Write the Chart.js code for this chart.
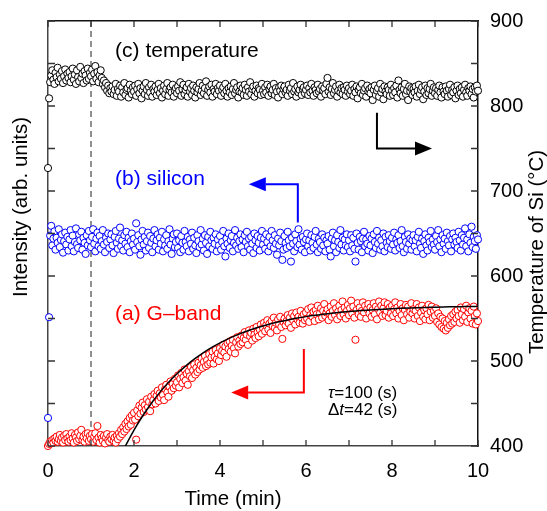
<!DOCTYPE html>
<html>
<head>
<meta charset="utf-8">
<script src="https://cdn.jsdelivr.net/npm/chart.js@4"></script>
<style>
  body { margin: 0; background: #fff; }
  canvas { display: block; }
</style>
</head>
<body>
<canvas id="chartCanvas" width="547" height="511"></canvas>
<script>
// sampling times (min), one spectrum every 1.5 s
const TIMES = [
  0, 0.025, 0.05, 0.075, 0.1, 0.125, 0.15, 0.175, 0.2, 0.225, 0.25, 0.275, 0.3, 0.325, 0.35, 0.375, 0.4, 0.425, 0.45, 0.475,
  0.5, 0.525, 0.55, 0.575, 0.6, 0.625, 0.65, 0.675, 0.7, 0.725, 0.75, 0.775, 0.8, 0.825, 0.85, 0.875, 0.9, 0.925, 0.95, 0.975,
  1, 1.025, 1.05, 1.075, 1.1, 1.125, 1.15, 1.175, 1.2, 1.225, 1.25, 1.275, 1.3, 1.325, 1.35, 1.375, 1.4, 1.425, 1.45, 1.475,
  1.5, 1.525, 1.55, 1.575, 1.6, 1.625, 1.65, 1.675, 1.7, 1.725, 1.75, 1.775, 1.8, 1.825, 1.85, 1.875, 1.9, 1.925, 1.95, 1.975,
  2, 2.025, 2.05, 2.075, 2.1, 2.125, 2.15, 2.175, 2.2, 2.225, 2.25, 2.275, 2.3, 2.325, 2.35, 2.375, 2.4, 2.425, 2.45, 2.475,
  2.5, 2.525, 2.55, 2.575, 2.6, 2.625, 2.65, 2.675, 2.7, 2.725, 2.75, 2.775, 2.8, 2.825, 2.85, 2.875, 2.9, 2.925, 2.95, 2.975,
  3, 3.025, 3.05, 3.075, 3.1, 3.125, 3.15, 3.175, 3.2, 3.225, 3.25, 3.275, 3.3, 3.325, 3.35, 3.375, 3.4, 3.425, 3.45, 3.475,
  3.5, 3.525, 3.55, 3.575, 3.6, 3.625, 3.65, 3.675, 3.7, 3.725, 3.75, 3.775, 3.8, 3.825, 3.85, 3.875, 3.9, 3.925, 3.95, 3.975,
  4, 4.025, 4.05, 4.075, 4.1, 4.125, 4.15, 4.175, 4.2, 4.225, 4.25, 4.275, 4.3, 4.325, 4.35, 4.375, 4.4, 4.425, 4.45, 4.475,
  4.5, 4.525, 4.55, 4.575, 4.6, 4.625, 4.65, 4.675, 4.7, 4.725, 4.75, 4.775, 4.8, 4.825, 4.85, 4.875, 4.9, 4.925, 4.95, 4.975,
  5, 5.025, 5.05, 5.075, 5.1, 5.125, 5.15, 5.175, 5.2, 5.225, 5.25, 5.275, 5.3, 5.325, 5.35, 5.375, 5.4, 5.425, 5.45, 5.475,
  5.5, 5.525, 5.55, 5.575, 5.6, 5.625, 5.65, 5.675, 5.7, 5.725, 5.75, 5.775, 5.8, 5.825, 5.85, 5.875, 5.9, 5.925, 5.95, 5.975,
  6, 6.025, 6.05, 6.075, 6.1, 6.125, 6.15, 6.175, 6.2, 6.225, 6.25, 6.275, 6.3, 6.325, 6.35, 6.375, 6.4, 6.425, 6.45, 6.475,
  6.5, 6.525, 6.55, 6.575, 6.6, 6.625, 6.65, 6.675, 6.7, 6.725, 6.75, 6.775, 6.8, 6.825, 6.85, 6.875, 6.9, 6.925, 6.95, 6.975,
  7, 7.025, 7.05, 7.075, 7.1, 7.125, 7.15, 7.175, 7.2, 7.225, 7.25, 7.275, 7.3, 7.325, 7.35, 7.375, 7.4, 7.425, 7.45, 7.475,
  7.5, 7.525, 7.55, 7.575, 7.6, 7.625, 7.65, 7.675, 7.7, 7.725, 7.75, 7.775, 7.8, 7.825, 7.85, 7.875, 7.9, 7.925, 7.95, 7.975,
  8, 8.025, 8.05, 8.075, 8.1, 8.125, 8.15, 8.175, 8.2, 8.225, 8.25, 8.275, 8.3, 8.325, 8.35, 8.375, 8.4, 8.425, 8.45, 8.475,
  8.5, 8.525, 8.55, 8.575, 8.6, 8.625, 8.65, 8.675, 8.7, 8.725, 8.75, 8.775, 8.8, 8.825, 8.85, 8.875, 8.9, 8.925, 8.95, 8.975,
  9, 9.025, 9.05, 9.075, 9.1, 9.125, 9.15, 9.175, 9.2, 9.225, 9.25, 9.275, 9.3, 9.325, 9.35, 9.375, 9.4, 9.425, 9.45, 9.475,
  9.5, 9.525, 9.55, 9.575, 9.6, 9.625, 9.65, 9.675, 9.7, 9.725, 9.75, 9.775, 9.8, 9.825, 9.85, 9.875, 9.9, 9.925, 9.95, 9.975,
  10
];

// (a) G-band intensity (arb. units, left axis)
const GBAND = [
  0.00, 0.05, 0.10, 0.06, 0.14, 0.08, 0.18, 0.12, 0.22, 0.10, 0.16, 0.26, 0.12, 0.20, 0.08, 0.24, 0.14, 0.28, 0.18, 0.10,
  0.22, 0.14, 0.30, 0.18, 0.08, 0.26, 0.20, 0.12, 0.32, 0.16, 0.24, 0.38, 0.14, 0.22, 0.10, 0.28, 0.18, 0.30, 0.12, 0.24,
  0.16, 0.28, 0.10, 0.22, 0.30, 0.14, 0.47, 0.20, 0.08, 0.26, 0.18, 0.12, 0.24, 0.06, 0.20, 0.28, 0.14, 0.10, 0.22, 0.16,
  0.26, 0.12, 0.20, 0.08, 0.24, 0.16, 0.30, 0.22, 0.38, 0.28, 0.44, 0.34, 0.52, 0.40, 0.58, 0.46, 0.66, 0.50, 0.72, 0.60,
  0.78, 0.62, 0.15, 0.84, 0.70, 0.95, 0.76, 0.90, 1.02, 0.80, 0.96, 0.86, 1.10, 0.92, 1.04, 0.82, 1.16, 0.98, 1.08, 1.22,
  1.00, 1.18, 1.30, 1.06, 1.24, 1.14, 1.38, 1.20, 1.08, 1.34, 1.44, 1.26, 1.16, 1.40, 1.52, 1.30, 1.46, 1.36, 1.58, 1.42,
  1.50, 1.66, 1.38, 1.58, 1.72, 1.48, 1.62, 1.80, 1.54, 1.70, 1.44, 1.76, 1.64, 1.86, 1.60, 1.78, 1.92, 1.68, 1.84, 1.74,
  1.96, 1.80, 1.90, 2.06, 1.84, 1.98, 2.12, 1.88, 2.02, 1.92, 2.16, 1.96, 2.08, 2.22, 1.94, 2.10, 2.26, 2.04, 2.18, 2.00,
  2.30, 2.14, 2.24, 2.38, 2.20, 2.34, 2.10, 2.42, 2.28, 2.46, 2.22, 2.36, 2.50, 2.30, 2.18, 2.44, 2.56, 2.34, 2.48, 2.40,
  2.60, 2.44, 2.54, 2.68, 2.50, 2.62, 2.38, 2.72, 2.58, 2.66, 2.48, 2.76, 2.62, 2.54, 2.80, 2.68, 2.58, 2.74, 2.86, 2.64,
  2.78, 2.90, 2.70, 2.84, 2.96, 2.74, 2.88, 2.66, 2.94, 2.82, 3.02, 2.78, 2.90, 2.72, 2.98, 2.86, 3.04, 2.80, 2.52, 2.92,
  3.00, 2.84, 2.94, 3.08, 2.88, 3.02, 2.78, 3.12, 2.96, 3.06, 2.86, 3.14, 2.98, 3.04, 2.90, 3.18, 3.02, 2.88, 3.10, 2.96,
  3.14, 3.00, 3.22, 2.92, 3.08, 3.26, 3.04, 3.16, 2.94, 3.20, 3.10, 3.30, 2.98, 3.12, 3.24, 3.02, 3.18, 3.34, 3.06, 3.14,
  3.22, 2.96, 3.12, 3.28, 3.04, 3.18, 3.36, 3.08, 3.24, 2.98, 3.16, 3.30, 3.06, 3.20, 3.40, 3.10, 3.26, 3.00, 3.18, 3.32,
  3.08, 3.24, 3.42, 3.12, 3.28, 3.02, 2.50, 3.20, 3.36, 3.10, 3.26, 3.04, 3.18, 3.38, 3.14, 3.30, 3.00, 3.22, 3.34, 3.12,
  3.26, 3.04, 3.20, 3.36, 3.10, 3.28, 2.98, 3.22, 3.40, 3.14, 3.30, 3.06, 3.24, 3.38, 3.08, 3.18, 3.34, 3.02, 3.26, 3.12,
  3.30, 3.06, 3.22, 3.38, 3.12, 3.26, 3.00, 3.18, 3.34, 3.08, 3.24, 2.96, 3.20, 3.32, 3.10, 3.28, 3.02, 3.16, 3.36, 3.12,
  3.22, 3.00, 3.18, 3.34, 3.06, 3.26, 2.94, 3.14, 3.30, 3.04, 3.20, 2.98, 3.24, 3.10, 3.32, 2.96, 3.16, 3.28, 3.02, 3.18,
  3.06, 3.24, 2.92, 3.12, 2.86, 3.04, 2.80, 3.00, 2.76, 2.94, 2.72, 2.90, 2.78, 2.98, 2.84, 3.06, 2.88, 3.10, 2.92, 3.16,
  3.00, 3.20, 3.06, 2.90, 3.26, 3.10, 2.96, 3.22, 3.04, 3.30, 2.92, 3.14, 3.24, 3.00, 3.18, 2.88, 3.28, 3.06, 2.86, 3.12,
  2.94
];

// (b) silicon intensity (arb. units, left axis)
const SILICON = [
  0.66, 3.03, 4.95, 5.18, 4.72, 4.88, 5.05, 4.62, 4.90, 4.78, 5.10, 4.68, 4.85, 4.98, 4.55, 4.82, 5.02, 4.74, 4.92, 4.60,
  4.86, 5.08, 4.70, 4.95, 4.58, 4.80, 5.12, 4.75, 4.66, 4.98, 4.84, 5.04, 4.62, 4.90, 4.78, 4.52, 4.96, 4.72, 5.06, 4.84,
  4.68, 4.92, 5.10, 4.76, 4.58, 4.88, 5.02, 4.70, 4.94, 4.64, 4.82, 5.08, 4.74, 4.56, 4.90, 4.80, 5.00, 4.66, 4.86, 4.98,
  4.72, 4.54, 4.92, 5.06, 4.78, 4.64, 4.88, 5.14, 4.70, 4.84, 4.60, 4.96, 4.76, 5.04, 4.68, 4.90, 4.56, 4.82, 5.00, 4.74,
  4.88, 4.62, 5.24, 4.80, 4.96, 4.70, 4.50, 4.86, 5.06, 4.74, 4.92, 4.60, 4.82, 5.02, 4.66, 4.94, 4.78, 4.56, 4.88, 5.08,
  4.70, 4.84, 4.98, 4.62, 4.90, 4.76, 5.04, 4.58, 4.86, 4.72, 4.96, 4.64, 4.82, 5.10, 4.74, 4.52, 4.88, 4.98, 4.68, 4.80,
  5.00, 4.66, 4.84, 4.56, 4.94, 4.78, 4.62, 5.06, 4.80, 4.70, 4.92, 4.58, 4.86, 4.76, 5.02, 4.64, 4.90, 4.72, 4.54, 4.96,
  4.82, 4.68, 5.08, 4.74, 4.88, 4.60, 4.96, 4.78, 4.52, 4.92, 4.70, 5.04, 4.84, 4.64, 4.90, 4.76, 4.98, 4.58, 4.86, 4.72,
  4.94, 4.62, 4.80, 5.06, 4.70, 4.46, 4.88, 4.76, 5.00, 4.66, 4.84, 4.94, 4.58, 4.78, 5.08, 4.72, 4.90, 4.64, 4.82, 4.98,
  4.68, 4.86, 4.56, 4.96, 4.80, 5.04, 4.70, 4.88, 4.62, 4.92, 4.76, 4.54, 5.00, 4.84, 4.66, 4.94, 4.78, 4.60, 4.90, 5.06,
  4.74, 4.88, 4.64, 4.98, 4.80, 4.58, 4.92, 4.70, 5.06, 4.84, 4.66, 4.96, 4.76, 4.50, 4.88, 4.72, 5.02, 4.82, 4.38, 4.62,
  4.94, 4.78, 4.66, 5.04, 4.84, 4.70, 4.34, 4.90, 4.76, 4.58, 4.98, 4.82, 4.68, 5.10, 4.74, 4.88, 4.62, 4.92, 4.80, 4.56,
  4.86, 5.00, 4.70, 4.84, 4.60, 4.96, 4.78, 4.66, 4.92, 5.06, 4.74, 4.56, 4.88, 4.80, 4.64, 4.98, 4.72, 4.90, 4.58, 4.84,
  4.76, 4.94, 4.62, 4.46, 4.88, 5.02, 4.70, 4.84, 4.56, 4.96, 4.80, 4.66, 5.08, 4.74, 4.90, 4.60, 4.86, 4.72, 4.98, 4.68,
  4.84, 4.58, 4.96, 4.72, 4.90, 4.64, 4.34, 5.00, 4.78, 4.62, 4.92, 4.82, 4.56, 4.88, 5.04, 4.70, 4.86, 4.76, 4.60, 4.94,
  4.72, 4.88, 4.54, 4.98, 4.80, 4.66, 5.06, 4.76, 4.90, 4.62, 4.84, 4.70, 5.00, 4.58, 4.92, 4.78, 4.68, 4.96, 4.82, 4.64,
  4.90, 4.74, 5.02, 4.60, 4.86, 4.78, 4.96, 4.66, 4.82, 5.08, 4.70, 4.56, 4.92, 4.80, 4.64, 4.98, 4.76, 4.88, 4.62, 4.84,
  4.96, 4.70, 4.84, 4.58, 4.92, 5.04, 4.76, 4.66, 4.88, 4.52, 4.82, 4.98, 4.72, 4.60, 4.90, 4.80, 5.06, 4.68, 4.86, 4.74,
  4.62, 4.94, 4.80, 5.08, 4.70, 4.86, 4.56, 4.96, 4.76, 4.88, 4.64, 5.02, 4.82, 4.72, 4.94, 4.58, 4.86, 5.00, 4.74, 4.90,
  4.80, 4.66, 5.04, 4.84, 4.60, 4.96, 4.74, 4.90, 5.12, 4.70, 4.86, 4.58, 4.98, 4.78, 5.16, 4.68, 4.92, 4.82, 4.64, 4.96,
  4.86
];

// (c) substrate temperature (°C, right axis)
const TEMPERATURE = [
  727, 809, 828, 836, 842, 831, 826, 839, 834, 845, 829, 837, 832, 841, 827, 835, 843, 830, 838, 833,
  840, 828, 835, 844, 831, 837, 826, 842, 834, 829, 846, 833, 838, 827, 841, 836, 830, 844, 832, 839,
  835, 843, 829, 838, 847, 832, 840, 828, 836, 842, 833, 826, 830, 822, 827, 818, 824, 815, 821, 817,
  823, 814, 819, 826, 812, 820, 817, 824, 811, 822, 816, 827, 813, 819, 821, 810, 825, 818, 814, 822,
  817, 824, 812, 820, 826, 815, 821, 809, 818, 823, 814, 827, 819, 812, 822, 816, 825, 811, 820, 817,
  823, 813, 819, 826, 815, 821, 810, 818, 824, 814, 820, 827, 812, 819, 822, 816, 825, 811, 818, 821,
  815, 823, 818, 828, 812, 820, 825, 814, 819, 822, 811, 826, 817, 821, 813, 824, 818, 810, 822, 816,
  820, 827, 813, 818, 824, 815, 821, 829, 812, 819, 823, 816, 825, 811, 820, 817, 826, 814, 821, 818,
  824, 812, 819, 822, 815, 826, 818, 811, 821, 816, 823, 813, 820, 827, 815, 819, 822, 810, 817, 824,
  816, 821, 813, 825, 819, 812, 822, 817, 828, 814, 820, 823, 811, 818, 824, 815, 821, 819, 813, 826,
  818, 814, 822, 816, 825, 812, 820, 823, 815, 819, 826, 813, 821, 817, 810, 822, 818, 824, 814, 820,
  823, 816, 819, 812, 825, 818, 821, 814, 827, 817, 820, 811, 823, 816, 819, 825, 813, 820, 822, 815,
  819, 824, 813, 821, 816, 826, 818, 812, 822, 819, 815, 825, 817, 820, 811, 823, 818, 821, 814, 826,
  833, 817, 822, 813, 820, 827, 815, 819, 823, 811, 818, 825, 816, 821, 814, 822, 819, 812, 824, 817,
  821, 814, 818, 825, 812, 820, 816, 823, 809, 819, 822, 815, 826, 813, 818, 821, 811, 824, 817, 820,
  815, 822, 807, 819, 824, 813, 818, 821, 811, 826, 816, 820, 808, 823, 817, 814, 822, 819, 812, 825,
  818, 813, 821, 816, 824, 810, 830, 819, 815, 822, 812, 820, 826, 814, 818, 807, 823, 817, 821, 813,
  820, 816, 823, 811, 818, 825, 814, 819, 822, 808, 817, 824, 813, 821, 815, 820, 826, 812, 818, 822,
  815, 821, 812, 819, 824, 816, 810, 822, 817, 814, 823, 818, 811, 820, 825, 813, 819, 816, 822, 809,
  818, 824, 813, 820, 815, 822, 811, 819, 825, 816, 812, 821, 818, 823, 814, 820, 810, 822, 817, 824,
  818
];

// exponential fit of the G-band rise: tau = 100 s, delay 42 s after heating
const FIT_TIMES = [
  1.8, 2.0, 2.2, 2.4, 2.6, 2.8, 3.0, 3.2, 3.4, 3.6, 3.8,
  4.0, 4.2, 4.4, 4.6, 4.8, 5.0, 5.2, 5.4, 5.6, 5.8,
  6.0, 6.2, 6.4, 6.6, 6.8, 7.0, 7.2, 7.4, 7.6, 7.8,
  8.0, 8.2, 8.4, 8.6, 8.8, 9.0, 9.2, 9.4, 9.6, 9.8, 10.0
];
const FIT_VALUES = [
  0, 0.374, 0.706, 1.001, 1.262, 1.493, 1.699, 1.881, 2.043, 2.186, 2.313,
  2.426, 2.526, 2.615, 2.693, 2.763, 2.825, 2.880, 2.928, 2.971, 3.010,
  3.044, 3.074, 3.100, 3.124, 3.145, 3.164, 3.180, 3.195, 3.208, 3.220,
  3.230, 3.239, 3.247, 3.254, 3.260, 3.266, 3.271, 3.275, 3.279, 3.283, 3.286
];

const HEATING_ON = 1.0; // min, dashed marker

const FONT = '"Liberation Sans", Arial, Helvetica, sans-serif';

// arrows pointing to the axis each trace belongs to (x in min, y in °C)
const arrows = [
  { color: '#000', from: [7.65, 792], corner: [7.65, 750], to: [8.93, 750] },
  { color: '#0000ff', from: [5.81, 663], corner: [5.81, 708], to: [4.67, 708] },
  { color: '#ff0000', from: [5.95, 514], corner: [5.95, 463], to: [4.26, 463] }
];

const labels = [
  { text: '(c) temperature', color: '#000', at: [1.56, 865] },
  { text: '(b) silicon', color: '#0000ff', at: [1.56, 714] },
  { text: '(a) G\u2013band', color: '#ff0000', at: [1.56, 555] }
];

function points(xs, ys) {
  return xs.map((x, i) => ({ x: x, y: ys[i] }));
}

function circles(label, data, color, axis) {
  return {
    label: label,
    data: data,
    yAxisID: axis,
    showLine: false,
    pointStyle: 'circle',
    pointRadius: 3.6,
    borderWidth: 1,
    borderColor: color,
    pointBackgroundColor: '#fff',
    backgroundColor: '#fff',
    clip: false
  };
}

// inward ticks, dashed marker, arrows and text
const decorations = {
  id: 'decorations',
  beforeDatasetsDraw(chart) {
    const { ctx, chartArea: a, scales } = chart;
    const x = scales.x.getPixelForValue(HEATING_ON);
    ctx.save();
    ctx.strokeStyle = '#555';
    ctx.lineWidth = 1.3;
    ctx.setLineDash([6, 4]);
    ctx.beginPath();
    ctx.moveTo(x, a.top);
    ctx.lineTo(x, a.bottom);
    ctx.stroke();
    ctx.restore();
  },
  afterDraw(chart) {
    const { ctx, chartArea: a, scales } = chart;
    const sx = scales.x, sy = scales.y, st = scales.y2;
    ctx.save();

    // ticks point into the frame
    ctx.lineWidth = 1.3;
    ctx.strokeStyle = '#333';
    ctx.beginPath();
    sx.ticks.forEach(t => {
      const px = sx.getPixelForValue(t.value);
      ctx.moveTo(px, a.bottom); ctx.lineTo(px, a.bottom - 6);
      ctx.moveTo(px, a.top); ctx.lineTo(px, a.top + 6);
    });
    sy.ticks.forEach(t => {
      const py = sy.getPixelForValue(t.value);
      ctx.moveTo(a.left, py); ctx.lineTo(a.left + 7, py);
    });
    st.ticks.forEach(t => {
      const py = st.getPixelForValue(t.value);
      ctx.moveTo(a.right, py); ctx.lineTo(a.right - 7, py);
    });
    ctx.stroke();

    // arrows
    arrows.forEach(ar => {
      const p0 = [sx.getPixelForValue(ar.from[0]), st.getPixelForValue(ar.from[1])];
      const p1 = [sx.getPixelForValue(ar.corner[0]), st.getPixelForValue(ar.corner[1])];
      const p2 = [sx.getPixelForValue(ar.to[0]), st.getPixelForValue(ar.to[1])];
      const dir = Math.sign(p2[0] - p1[0]);
      const headLen = 17, headHalf = 7;
      ctx.strokeStyle = ar.color;
      ctx.fillStyle = ar.color;
      ctx.lineWidth = 2;
      ctx.beginPath();
      ctx.moveTo(p0[0], p0[1]);
      ctx.lineTo(p1[0], p1[1]);
      ctx.lineTo(p2[0] - dir * headLen, p2[1]);
      ctx.stroke();
      ctx.beginPath();
      ctx.moveTo(p2[0], p2[1]);
      ctx.lineTo(p2[0] - dir * headLen, p2[1] - headHalf);
      ctx.lineTo(p2[0] - dir * headLen, p2[1] + headHalf);
      ctx.closePath();
      ctx.fill();
    });

    // trace labels
    ctx.font = '21px ' + FONT;
    ctx.textAlign = 'left';
    ctx.textBaseline = 'middle';
    labels.forEach(l => {
      ctx.fillStyle = l.color;
      ctx.fillText(l.text, sx.getPixelForValue(l.at[0]), st.getPixelForValue(l.at[1]));
    });

    // fit parameters, mixing italic symbols and upright text
    function runs(parts, x, y) {
      parts.forEach(p => {
        ctx.font = (p[1] ? 'italic ' : '') + '17px ' + FONT;
        ctx.fillText(p[0], x, y);
        x += ctx.measureText(p[0]).width;
      });
    }
    ctx.fillStyle = '#000';
    const fx = sx.getPixelForValue(6.51);
    runs([['\u03c4', true], ['=100 (s)', false]], fx, st.getPixelForValue(462));
    runs([['\u0394', false], ['t', true], ['=42 (s)', false]], fx, st.getPixelForValue(442));

    // axis titles
    ctx.font = '20.5px ' + FONT;
    ctx.textAlign = 'center';
    ctx.fillText('Time (min)', 233, 499);
    ctx.save();
    ctx.translate(21, 207);
    ctx.rotate(-Math.PI / 2);
    ctx.fillText('Intensity (arb. units)', 0, 0);
    ctx.restore();
    ctx.save();
    ctx.translate(537, 252);
    ctx.rotate(-Math.PI / 2);
    ctx.fillText('Temperature of Si (\u00b0C)', 0, 0);
    ctx.restore();

    ctx.restore();
  }
};

const tickFont = { family: FONT, size: 20 };

const ctx = document.getElementById('chartCanvas').getContext('2d');
const myChart = new Chart(ctx, {
  type: 'scatter',
  data: {
    datasets: [
      {
        label: 'fit',
        type: 'line',
        data: points(FIT_TIMES, FIT_VALUES),
        yAxisID: 'y',
        borderColor: '#000',
        borderWidth: 1.5,
        pointRadius: 0,
        cubicInterpolationMode: 'monotone',
        fill: false
      },
      circles('(a) G-band', points(TIMES, GBAND), '#ff0000', 'y'),
      circles('(b) silicon', points(TIMES, SILICON), '#0000ff', 'y'),
      circles('(c) temperature', points(TIMES, TEMPERATURE), '#000', 'y2')
    ]
  },
  options: {
    responsive: false,
    animation: false,
    events: [],
    layout: { padding: 0 },
    plugins: {
      legend: { display: false },
      tooltip: { enabled: false }
    },
    scales: {
      x: {
        type: 'linear',
        position: 'bottom',
        min: 0,
        max: 10,
        grid: { display: false },
        border: { color: '#444', width: 1.5 },
        ticks: {
          stepSize: 1,
          autoSkip: false,
          maxRotation: 0,
          padding: 5,
          color: '#000',
          font: tickFont,
          callback: v => (v % 2 === 0 ? v : '')
        },
        afterFit: s => { s.height = 65; }
      },
      x2: {
        type: 'linear',
        position: 'top',
        min: 0,
        max: 10,
        grid: { display: false },
        border: { color: '#111', width: 1.5 },
        ticks: { display: false, stepSize: 1 },
        afterFit: s => { s.height = 21; }
      },
      y: {
        type: 'linear',
        position: 'left',
        min: 0,
        max: 10,
        grid: { display: false },
        border: { color: '#444', width: 1.5 },
        ticks: { display: false, stepSize: 1 },
        afterFit: s => { s.width = 48; }
      },
      y2: {
        type: 'linear',
        position: 'right',
        min: 400,
        max: 900,
        grid: { display: false },
        border: { color: '#111', width: 1.5 },
        ticks: {
          stepSize: 50,
          padding: 4,
          color: '#000',
          font: tickFont,
          callback: v => (v % 100 === 0 ? v : '')
        },
        afterFit: s => { s.width = 69; }
      }
    }
  },
  plugins: [decorations]
});
</script>
</body>
</html>
